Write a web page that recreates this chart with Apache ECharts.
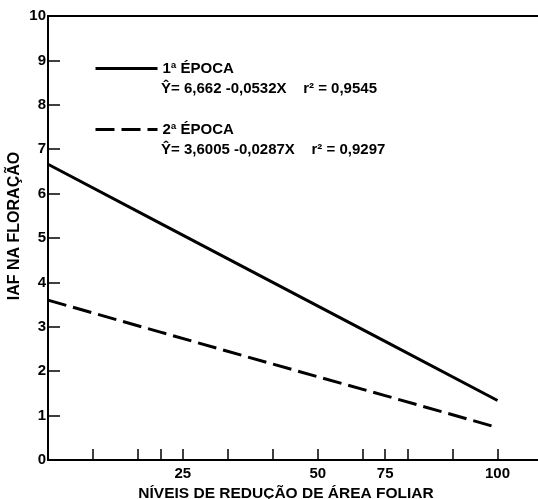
<!DOCTYPE html>
<html>
<head>
<meta charset="utf-8">
<script src="https://cdn.jsdelivr.net/npm/echarts@6/dist/echarts.min.js"></script>
<style>
html,body{margin:0;padding:0;background:#fff;}
#c{width:538px;height:499px;}
</style>
</head>
<body>
<div id="c"></div>
<script>
// Data
const xLevels = [0, 25, 50, 75, 100];
const epoca1 = [6.66, 5.33, 4.00, 2.67, 1.34];
const epoca2 = [3.60, 2.88, 2.16, 1.45, 0.73];
const seriesNames = ['1ª ÉPOCA', '2ª ÉPOCA'];
const equations = ['Ŷ= 6,662 -0,0532X    r² = 0,9545', 'Ŷ= 3,6005 -0,0287X    r² = 0,9297'];
const xTickValues = [10, 20, 25, 30, 40, 50, 60, 70, 75, 80, 90, 100];
const xLabelValues = [30, 60, 75, 100];
const xLabelTexts = ['25', '50', '75', '100'];
const yTicks = [0, 1, 2, 3, 4, 5, 6, 7, 8, 9, 10];

const FONT = '"Liberation Sans", Arial, sans-serif';
const chart = echarts.init(document.getElementById('c'));
const txt = {color: '#000', fontFamily: FONT, fontWeight: 'bold', fontSize: 15};

chart.setOption({
  animation: false,
  backgroundColor: '#fff',
  grid: {left: 48, right: 0, top: 16, bottom: 39, containLabel: false, outerBoundsMode: 'none'},
  legend: {
    orient: 'vertical', left: 94, top: 61, padding: 0,
    itemWidth: 62, itemHeight: 14, itemGap: 46,
    itemStyle: {color: 'rgba(0,0,0,0)', borderWidth: 0, borderColor: 'rgba(0,0,0,0)'},
    lineStyle: {width: 3},
    textStyle: Object.assign({}, txt),
    data: seriesNames.map(n => ({name: n}))
  },
  xAxis: [{
    type: 'value', min: 0, max: 109,
    axisLine: {show: true, lineStyle: {color: '#000', width: 2}},
    axisTick: {show: true, inside: true, length: 11, customValues: xTickValues, lineStyle: {color: '#000', width: 1.5}},
    axisLabel: {
      show: true, margin: 6, customValues: xLabelValues,
      formatter: v => { const i = xLabelValues.indexOf(v); return i >= 0 ? xLabelTexts[i] : ''; },
      color: '#000', fontFamily: FONT, fontWeight: 'bold', fontSize: 15
    },
    splitLine: {show: false},
    name: 'NÍVEIS DE REDUÇÃO DE ÁREA FOLIAR', nameLocation: 'middle', nameGap: 15,
    nameTextStyle: Object.assign({}, txt, {fontSize: 15.5, padding: [0, 14, 0, 0]})
  }, {
    type: 'value', position: 'top', min: 0, max: 109,
    axisLine: {show: true, lineStyle: {color: '#000', width: 2}},
    axisTick: {show: false}, axisLabel: {show: false}, splitLine: {show: false}
  }],
  yAxis: {
    type: 'value', min: 0, max: 10, interval: 1,
    axisLine: {show: true, lineStyle: {color: '#000', width: 2}},
    axisTick: {show: true, inside: true, length: 12, customValues: yTicks.slice(1, 10), lineStyle: {color: '#000', width: 1.5}},
    axisLabel: {margin: 2, color: '#000', fontFamily: FONT, fontWeight: 'bold', fontSize: 15},
    splitLine: {show: false}
  },
  graphic: [
    {type: 'text', x: 15, y: 226, rotation: Math.PI / 2,
      style: {text: 'IAF NA FLORAÇÃO', align: 'center', verticalAlign: 'middle',
        fill: '#000', font: 'bold 16px ' + FONT}},
    {type: 'text', x: 161, y: 89,
      style: {text: equations[0], align: 'left', verticalAlign: 'middle', fill: '#000', font: 'bold 15px ' + FONT}},
    {type: 'text', x: 161, y: 150,
      style: {text: equations[1], align: 'left', verticalAlign: 'middle', fill: '#000', font: 'bold 15px ' + FONT}}
  ],
  series: [{
    name: seriesNames[0], type: 'line', symbol: 'none',
    data: xLevels.map((x, i) => [x, epoca1[i]]),
    lineStyle: {color: '#000', width: 3, type: 'solid'}, itemStyle: {color: '#000'}
  }, {
    name: seriesNames[1], type: 'line', symbol: 'none',
    data: xLevels.map((x, i) => [x, epoca2[i]]),
    lineStyle: {color: '#000', width: 3, type: [19, 7]}, itemStyle: {color: '#000'}
  }]
});
</script>
</body>
</html>
